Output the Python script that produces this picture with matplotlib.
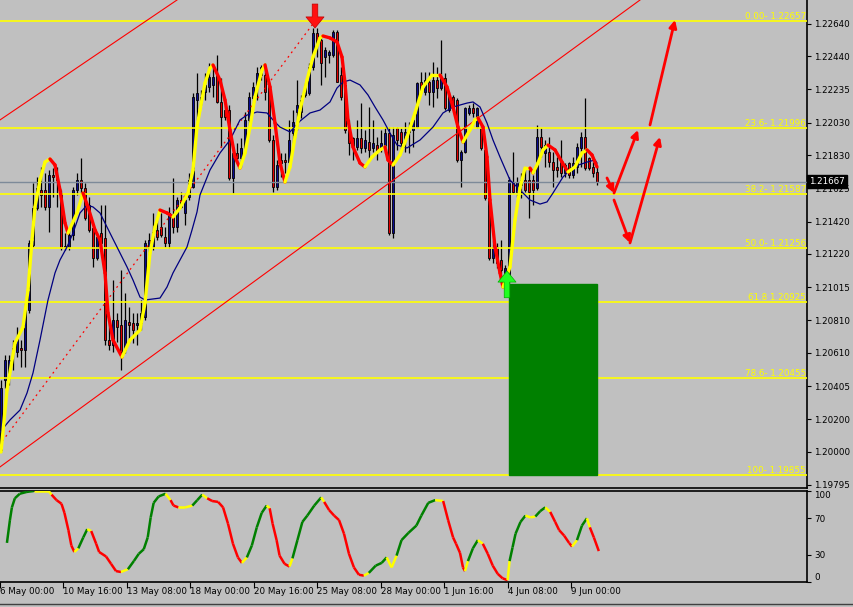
import numpy as np
import matplotlib
matplotlib.use("Agg")
import matplotlib.pyplot as plt
import matplotlib.transforms as mtransforms
from matplotlib.collections import LineCollection
from matplotlib.patches import Rectangle

plt.rcParams['font.family'] = 'DejaVu Sans'

# ---- EURUSD H4 candles, bar 0 = 6 May 08:00 ----
opens = [1.20010, 1.20442, 1.20486, 1.20640, 1.20615, 1.20640, 1.20627, 1.20874, 1.21275, 1.21504,
         1.21615, 1.21615, 1.21510, 1.21707, 1.21695, 1.21596, 1.21269, 1.21263, 1.21337, 1.21615,
         1.21676, 1.21627, 1.21522, 1.21380, 1.21195, 1.21349, 1.21319, 1.20689, 1.20658, 1.20813,
         1.20782, 1.20627, 1.20800, 1.20794, 1.20782, 1.20794, 1.20831, 1.21257, 1.21263, 1.21368,
         1.21387, 1.21325, 1.21288, 1.21448, 1.21387, 1.21553, 1.21473, 1.21572, 1.21633, 1.22170,
         1.22158, 1.22219, 1.22250, 1.22263, 1.22324, 1.22158, 1.22108, 1.22108, 1.21689, 1.21843,
         1.21812, 1.21874, 1.22047, 1.22182, 1.22263, 1.22324, 1.22324, 1.22263, 1.21923, 1.21633,
         1.21800, 1.21800, 1.21787, 1.21966, 1.22096, 1.22096, 1.22201, 1.22213, 1.22374, 1.22583,
         1.22540, 1.22435, 1.22448, 1.22448, 1.22590, 1.22324, 1.22263, 1.21985, 1.21936, 1.21880,
         1.21936, 1.21874, 1.21911, 1.21874, 1.21892, 1.21874, 1.21880, 1.21966, 1.21349, 1.21997,
         1.21973, 1.21923, 1.21973, 1.21985, 1.22003, 1.22281, 1.22219, 1.22281, 1.22219, 1.22293,
         1.22244, 1.22306, 1.22108, 1.22189, 1.22170, 1.21800, 1.21849, 1.22090, 1.22121, 1.22003,
         1.22003, 1.21862, 1.21565, 1.21195, 1.21263, 1.21183, 1.21103, 1.21090, 1.21664, 1.21602,
         1.21646, 1.21676, 1.21676, 1.21676, 1.21627, 1.21942, 1.21843, 1.21849, 1.21787, 1.21757,
         1.21787, 1.21720, 1.21781, 1.21707, 1.21757, 1.21874, 1.21942, 1.21812, 1.21757, 1.21726]
highs = [1.20442, 1.20597, 1.20597, 1.20689, 1.20769, 1.20689, 1.20917, 1.21306, 1.21658, 1.21695,
         1.21757, 1.21720, 1.21738, 1.21750, 1.21757, 1.21615, 1.21349, 1.21368, 1.21633, 1.21720,
         1.21812, 1.21658, 1.21572, 1.21387, 1.21349, 1.21522, 1.21522, 1.20813, 1.21059, 1.20856,
         1.21121, 1.20979, 1.20893, 1.20856, 1.20856, 1.20936, 1.21306, 1.21349, 1.21473, 1.21430,
         1.21473, 1.21387, 1.21510, 1.21689, 1.21572, 1.21602, 1.21596, 1.21720, 1.22213, 1.22337,
         1.22232, 1.22337, 1.22398, 1.22374, 1.22448, 1.22306, 1.22139, 1.22139, 1.21880, 1.21905,
         1.21936, 1.22096, 1.22219, 1.22281, 1.22374, 1.22386, 1.22398, 1.22281, 1.21954, 1.21800,
         1.21843, 1.21843, 1.22047, 1.22108, 1.22293, 1.22201, 1.22275, 1.22398, 1.22614, 1.22614,
         1.22559, 1.22497, 1.22478, 1.22602, 1.22602, 1.22374, 1.22275, 1.22047, 1.21942, 1.22047,
         1.22151, 1.21985, 1.22127, 1.22047, 1.21942, 1.21985, 1.22003, 1.22003, 1.22003, 1.22003,
         1.21997, 1.22034, 1.22034, 1.22065, 1.22281, 1.22343, 1.22343, 1.22343, 1.22404, 1.22374,
         1.22540, 1.22337, 1.22219, 1.22201, 1.22182, 1.21862, 1.22127, 1.22139, 1.22151, 1.22127,
         1.22028, 1.21874, 1.21584, 1.21306, 1.21288, 1.21306, 1.21152, 1.21695, 1.21849, 1.21695,
         1.21720, 1.21757, 1.21757, 1.21707, 1.22016, 1.21997, 1.21923, 1.21942, 1.21849, 1.21818,
         1.21923, 1.21781, 1.21787, 1.21818, 1.21905, 1.21973, 1.22182, 1.21818, 1.21787, 1.21757]
lows = [1.19998, 1.20393, 1.20412, 1.20504, 1.20584, 1.20523, 1.20523, 1.20856, 1.21263, 1.21491,
        1.21510, 1.21491, 1.21356, 1.21572, 1.21510, 1.21245, 1.21245, 1.21245, 1.21306, 1.21584,
        1.21596, 1.21430, 1.21356, 1.21140, 1.21183, 1.21245, 1.20658, 1.20627, 1.20615, 1.20677,
        1.20504, 1.20609, 1.20671, 1.20671, 1.20658, 1.20751, 1.20813, 1.21201, 1.21245, 1.21306,
        1.21325, 1.21263, 1.21257, 1.21349, 1.21356, 1.21504, 1.21399, 1.21553, 1.21627, 1.22047,
        1.22139, 1.22170, 1.22219, 1.22189, 1.22151, 1.21880, 1.22047, 1.21676, 1.21596, 1.21800,
        1.21757, 1.21843, 1.21985, 1.22170, 1.22170, 1.22293, 1.22170, 1.21911, 1.21602, 1.21615,
        1.21695, 1.21720, 1.21781, 1.21905, 1.21985, 1.22059, 1.22189, 1.22201, 1.22355, 1.22435,
        1.22263, 1.22312, 1.22398, 1.22435, 1.22281, 1.22170, 1.21966, 1.21831, 1.21800, 1.21862,
        1.21843, 1.21849, 1.21800, 1.21849, 1.21800, 1.21849, 1.21843, 1.21337, 1.21319, 1.21862,
        1.21862, 1.21849, 1.21843, 1.21880, 1.21997, 1.22213, 1.22201, 1.22139, 1.22127, 1.22182,
        1.22232, 1.22108, 1.22096, 1.22108, 1.21787, 1.21633, 1.21843, 1.22077, 1.22065, 1.21997,
        1.21862, 1.21553, 1.21183, 1.21164, 1.21134, 1.21078, 1.20997, 1.21016, 1.21596, 1.21572,
        1.21565, 1.21602, 1.21442, 1.21522, 1.21615, 1.21818, 1.21757, 1.21757, 1.21633, 1.21695,
        1.21695, 1.21695, 1.21689, 1.21689, 1.21720, 1.21757, 1.21738, 1.21738, 1.21695, 1.21646]
closes = [1.20393, 1.20566, 1.20566, 1.20615, 1.20702, 1.20627, 1.20893, 1.21288, 1.21504, 1.21627,
          1.21584, 1.21510, 1.21707, 1.21695, 1.21676, 1.21257, 1.21263, 1.21337, 1.21615, 1.21676,
          1.21627, 1.21442, 1.21368, 1.21195, 1.21325, 1.21288, 1.20689, 1.20658, 1.20813, 1.20769,
          1.20615, 1.20813, 1.20782, 1.20751, 1.20794, 1.20856, 1.21288, 1.21306, 1.21356, 1.21325,
          1.21337, 1.21288, 1.21473, 1.21387, 1.21553, 1.21510, 1.21553, 1.21676, 1.22189, 1.22213,
          1.22189, 1.22263, 1.22312, 1.22312, 1.22158, 1.22065, 1.22065, 1.21689, 1.21843, 1.21812,
          1.21874, 1.22047, 1.22189, 1.22250, 1.22337, 1.22374, 1.22219, 1.21923, 1.21633, 1.21769,
          1.21781, 1.21787, 1.21923, 1.22034, 1.22139, 1.22170, 1.22263, 1.22374, 1.22583, 1.22522,
          1.22398, 1.22478, 1.22466, 1.22590, 1.22281, 1.22189, 1.21985, 1.21905, 1.21880, 1.21936,
          1.21874, 1.21923, 1.21862, 1.21905, 1.21849, 1.21905, 1.21966, 1.21349, 1.21954, 1.21923,
          1.21905, 1.21973, 1.22003, 1.22047, 1.22275, 1.22232, 1.22293, 1.22219, 1.22293, 1.22244,
          1.22312, 1.22121, 1.22201, 1.22127, 1.21800, 1.21849, 1.22121, 1.22121, 1.22090, 1.22121,
          1.21874, 1.21565, 1.21195, 1.21263, 1.21164, 1.21121, 1.21134, 1.21676, 1.21602, 1.21664,
          1.21676, 1.21615, 1.21602, 1.21615, 1.21942, 1.21880, 1.21892, 1.21787, 1.21738, 1.21738,
          1.21720, 1.21769, 1.21707, 1.21781, 1.21880, 1.21942, 1.21750, 1.21750, 1.21720, 1.21667]

# smoothed trend line (yellow up / red down), read at sample bars
trend_bar = [0, 1.5, 3.5, 5.5, 6.75, 7.75, 8.5, 9.75, 11, 12.25, 13.5, 14.75, 16, 16.75, 19, 20.5,
             21.75, 23.5, 24.75, 26, 26.75, 28, 30.25, 32.25, 34.75, 36, 37.25, 38.5, 39.75, 41.5,
             43, 44.75, 46.75, 48, 49, 49.75, 51, 52.25, 53, 54.75, 56, 57.25, 58.5, 59.75, 61,
             62.25, 63.5, 65.25, 66, 67.25, 68.5, 69.75, 71, 72.25, 73.5, 74.75, 76.5, 78, 79.75,
             80.5, 82.25, 84, 85.25, 86, 86.75, 88, 89.75, 91, 92.75, 94.75, 96, 96.75, 98, 99.75,
             101.5, 103.5, 105.5, 107.75, 109.75, 111.5, 113, 114.25, 115.5, 117.25, 118.5, 119.25,
             120.5, 121.5, 122.25, 123.5, 124.75, 125.5, 127.25, 128.5, 129.75, 131, 132.25, 133,
             134.25, 135.5, 136.75, 138.5, 140.25, 141.75, 143.5, 145.25, 146.5, 147.75, 149]
trend_val = [1.19998, 1.20381, 1.20671, 1.20769, 1.20997, 1.21306, 1.21510, 1.21676, 1.21787, 1.21806,
             1.21769, 1.21615, 1.21411, 1.21349, 1.21473, 1.21596, 1.21510, 1.21368, 1.21306, 1.21103,
             1.20856, 1.20689, 1.20584, 1.20689, 1.20751, 1.20917, 1.21226, 1.21387, 1.21491, 1.21473,
             1.21448, 1.21504, 1.21596, 1.21738, 1.22003, 1.22108, 1.22275, 1.22367, 1.22386, 1.22293,
             1.22170, 1.21985, 1.21818, 1.21750, 1.21843, 1.22003, 1.22189, 1.22355, 1.22386, 1.22250,
             1.22028, 1.21781, 1.21664, 1.21757, 1.21942, 1.22108, 1.22293, 1.22435, 1.22553, 1.22565,
             1.22553, 1.22528, 1.22435, 1.22275, 1.22047, 1.21880, 1.21781, 1.21757, 1.21818, 1.21862,
             1.21880, 1.21800, 1.21769, 1.21831, 1.21942, 1.22090, 1.22250, 1.22324, 1.22324, 1.22250,
             1.22127, 1.22003, 1.21911, 1.21985, 1.22047, 1.22059, 1.22003, 1.21818, 1.21553, 1.21263,
             1.21103, 1.21016, 1.21140, 1.21430, 1.21627, 1.21750, 1.21750, 1.21720, 1.21781, 1.21862,
             1.21892, 1.21862, 1.21787, 1.21726, 1.21757, 1.21843, 1.21862, 1.21831, 1.21757]

# navy moving average, read at sample bars
ma_bar = [-0.25, 2.25, 4.75, 6.5, 8, 9.75, 11.75, 13.5, 14.75, 16.5, 18, 19.75, 21.5, 23, 24.75,
          27.25, 29.75, 31.5, 33, 34.75, 36, 39.75, 41.5, 43, 44.75, 46.5, 47.75, 49, 49.75, 52.25,
          54.75, 57.25, 59.75, 61.5, 64, 66.5, 68, 69.75, 72.25, 74.75, 77.25, 79.75, 82.25, 84,
          85.5, 87.25, 89.75, 91.75, 93.5, 95.5, 97.25, 99, 101.5, 104.75, 108, 110.5, 113, 116.5,
          118, 119.75, 121.5, 123, 124.75, 127.25, 129.75, 132.25, 134.75, 136.5, 138, 140.5, 143,
          146.5, 148.5, 149]
ma_val = [1.20121, 1.20196, 1.20257, 1.20362, 1.20486, 1.20689, 1.20936, 1.21103, 1.21183, 1.21263,
          1.21349, 1.21473, 1.21522, 1.21510, 1.21473, 1.21349, 1.21226, 1.21140, 1.21059, 1.20954,
          1.20936, 1.20948, 1.21016, 1.21103, 1.21183, 1.21263, 1.21368, 1.21479, 1.21584, 1.21738,
          1.21843, 1.21923, 1.22047, 1.22077, 1.22096, 1.22090, 1.22047, 1.22003, 1.21973, 1.22040,
          1.22090, 1.22108, 1.22158, 1.22244, 1.22281, 1.22293, 1.22263, 1.22201, 1.22127, 1.22047,
          1.21966, 1.21892, 1.21874, 1.21923, 1.22003, 1.22090, 1.22127, 1.22151, 1.22158, 1.22127,
          1.22028, 1.21923, 1.21818, 1.21676, 1.21615, 1.21553, 1.21528, 1.21541, 1.21596, 1.21695,
          1.21757, 1.21787, 1.21800, 1.21781]

# oscillator (0-100), read at sample bars
osc_bar = [-0.25, 0.5, 1, 1.75, 3, 4.75, 6.5, 10.25, 11, 12.25, 13.5, 14.25, 15.25, 16, 16.75,
           17.75, 19, 20, 21, 22.25, 23, 24.75, 26, 27.25, 28.5, 30.25, 31.75, 33, 34.25, 35.25,
           36, 36.75, 38, 39.75, 41, 41.75, 43, 44.75, 46.5, 47.75, 49, 50.25, 51.5, 53, 54.25,
           55.5, 56.75, 58, 59, 60.25, 61.5, 62.75, 64, 65.25, 66, 66.75, 67.75, 68.5, 69.75, 71,
           71.75, 73, 74.25, 75.5, 77.25, 79, 79.75, 81, 82.25, 83.5, 84.75, 86, 87.25, 88.5,
           89.75, 91, 92.75, 94.25, 95.5, 96.75, 98, 99.25, 101, 103, 104.25, 106, 107.75, 109.75,
           111, 112.25, 113, 114, 114.75, 115.25, 116, 117.25, 118.5, 119.75, 121, 122.25, 123.5,
           124.75, 126, 126.5, 127.25, 128, 129.25, 130.5, 131.75, 133, 134.25, 135.5, 136.75,
           138, 139, 140.25, 141.5, 142.25, 143.5, 144.75, 146, 146.75, 147.75, 149]
osc_val = [43, 68, 82, 92, 97, 99, 100, 100, 96, 90, 86, 76, 57, 40, 33,
           37, 49, 58, 56, 42, 33, 28, 20, 12, 11, 14, 23, 31, 36, 49,
           71, 87, 94, 97, 90, 84, 82, 82, 84, 90, 96, 92, 89, 88, 82,
           64, 42, 27, 21, 27, 40, 60, 76, 84, 81, 64, 46, 29, 20, 17,
           26, 46, 66, 73, 84, 93, 88, 79, 73, 68, 53, 31, 16, 8,
           7, 10, 18, 21, 27, 16, 29, 46, 54, 62, 73, 87, 90, 89,
           68, 49, 42, 32, 16, 12, 23, 37, 46, 42, 31, 18, 9,
           4, 2, 23, 38, 53, 66, 73, 71, 72, 78, 82, 77,
           66, 57, 51, 43, 39, 46, 62, 70, 60, 49, 34]

# fibonacci retracement drawn on the chart
fib_levels = [1.22657, 1.21996, 1.21587, 1.21256, 1.20925, 1.20455, 1.19855]
fib_labels = ["0.00- 1.22657", "23.6- 1.21996", "38.2- 1.21587", "50.0- 1.21256",
              "61.8 1.20925", "78.6- 1.20455", "100- 1.19855"]
fib_anchor_bar = [-6, 78.5]
fib_anchor_price = [1.19855, 1.22657]

# channel lines (two anchor points each)
chan_low_bar = [-0.25, 159.75]
chan_low_price = [1.19906, 1.22787]
chan_up_bar = [-0.25, 44]
chan_up_price = [1.22047, 1.22787]

# target box and hand-drawn scenario arrows
box_bars = [127, 149]
box_prices = [1.19855, 1.21035]
scen_arrows = [((151.5, 1.21689), (153.25, 1.21596)),
               ((153.25, 1.21596), (159.25, 1.21985)),
               ((153.25, 1.21553), (157.25, 1.21288)),
               ((157.25, 1.21288), (164.75, 1.21942)),
               ((162.25, 1.22016), (168.5, 1.22664))]

price_ticks = [1.22640, 1.22440, 1.22235, 1.22030, 1.21830, 1.21625, 1.21420, 1.21220,
               1.21015, 1.20810, 1.20610, 1.20405, 1.20200, 1.20000, 1.19795]
last_price = 1.21667
date_ticks = [-2, 14, 30, 46, 62, 78, 94, 110, 126, 142]
date_labels = ["6 May 00:00", "10 May 16:00", "13 May 08:00", "18 May 00:00", "20 May 16:00",
               "25 May 08:00", "28 May 00:00", "1 Jun 16:00", "4 Jun 08:00", "9 Jun 00:00"]
osc_ticks = [100, 70, 30, 0]

BG = '#C0C0C0'
W, H = 854, 607
fig = plt.figure(figsize=(W / 100, H / 100), dpi=100, facecolor=BG)
ax = fig.add_axes([0, 1 - 488 / H, 807 / W, 488 / H], facecolor=BG)
osc = fig.add_axes([0, 1 - 582 / H, 807 / W, 91 / H], facecolor=BG)

XMIN, XMAX = -0.25, 201.5
ax.set_xlim(XMIN, XMAX)
ax.set_ylim(1.19776, 1.22787)

##### candles #####
o = np.array(opens); hi = np.array(highs); lo = np.array(lows); c = np.array(closes)
idx = np.arange(len(o))
ax.vlines(idx, lo, hi, color='black', lw=0.9, zorder=2)
bull = c >= o
bot = np.minimum(o, c)
hgt = np.maximum(np.abs(c - o), 0.00003)
ax.bar(idx[bull], hgt[bull], bottom=bot[bull], width=0.7, color='#0A0A90',
       edgecolor='black', lw=0.6, zorder=3)
ax.bar(idx[~bull], hgt[~bull], bottom=bot[~bull], width=0.7, color='#E00000',
       edgecolor='black', lw=0.6, zorder=3)

##### objects #####
for lev, lab in zip(fib_levels, fib_labels):
    ax.axhline(lev, color='#FFFF00', lw=1.2, zorder=4)
    ax.text(XMAX - 0.3, lev, lab, color='#FFFF00', fontsize=6.3, ha='right', va='bottom', zorder=6)
ax.axhline(last_price, color='#7D8A99', lw=1.0, zorder=4)
ax.plot(fib_anchor_bar, fib_anchor_price, color='red', lw=0.9, ls=(0, (1.5, 3)), zorder=4)
ax.axline((chan_low_bar[0], chan_low_price[0]), (chan_low_bar[1], chan_low_price[1]),
          color='red', lw=0.8, zorder=4)
ax.axline((chan_up_bar[0], chan_up_price[0]), (chan_up_bar[1], chan_up_price[1]),
          color='red', lw=0.8, zorder=4)

ax.plot(ma_bar, ma_val, color='#000080', lw=0.9, zorder=5)

tb = np.array(trend_bar); tv = np.array(trend_val)
segs = np.stack([np.column_stack([tb[:-1], tv[:-1]]), np.column_stack([tb[1:], tv[1:]])], axis=1)
cols = ['#FFFF00' if d >= 0 else '#FF0000' for d in np.diff(tv)]
ax.add_collection(LineCollection(segs, colors=cols, linewidths=2.4, zorder=6, capstyle='round'))

ax.add_patch(Rectangle((box_bars[0], box_prices[0]), box_bars[1] - box_bars[0],
                       box_prices[1] - box_prices[0], color='#008000', zorder=5))

# signal arrows
ax.annotate('', xy=(78.5, 1.22614), xytext=(78.5, 1.22762),
            arrowprops=dict(facecolor='#FF1010', edgecolor='#C00000', width=4, headwidth=13,
                            headlength=8, shrink=0, lw=0.5), zorder=7, annotation_clip=False)
ax.annotate('', xy=(126.5, 1.21115), xytext=(126.5, 1.20950),
            arrowprops=dict(facecolor='#20FF20', edgecolor='#00B000', width=4, headwidth=13,
                            headlength=8, shrink=0, lw=0.5), zorder=7)
for (x0, y0), (x1, y1) in scen_arrows:
    ax.annotate('', xy=(x1, y1), xytext=(x0, y0),
                arrowprops=dict(arrowstyle='-|>', color='#FF0000', lw=2.0,
                                mutation_scale=11, shrinkA=0, shrinkB=0), zorder=7)

##### price axis #####
for s in ['left', 'top']:
    ax.spines[s].set_visible(False)
ax.spines['right'].set_linewidth(1.2)
ax.spines['bottom'].set_linewidth(1.2)
ax.set_xticks([])
ax.yaxis.tick_right()
ax.set_yticks(price_ticks)
ax.set_yticklabels(['%.5f' % p for p in price_ticks])
ax.tick_params(axis='y', length=3, width=0.8, pad=2, labelsize=6.3, colors='black')
tr = mtransforms.blended_transform_factory(ax.transAxes, ax.transData)
ax.text(1.003, last_price, '%.5f' % last_price, transform=tr, color='white', fontsize=6.3,
        ha='left', va='center', zorder=10,
        bbox=dict(boxstyle='square,pad=0.25', fc='black', ec='black'))

##### oscillator #####
osc.set_xlim(XMIN, XMAX)
osc.set_ylim(0, 100)
ob = np.array(osc_bar); ov = np.array(osc_val, dtype=float)
d = np.diff(ov)
ocols = []
for k, dk in enumerate(d):
    turning = k > 0 and np.sign(dk) != np.sign(d[k - 1])
    if abs(dk) < 0.5 or turning:
        ocols.append('#FFFF00')
    elif dk > 0:
        ocols.append('#008000')
    else:
        ocols.append('#FF0000')
osegs = np.stack([np.column_stack([ob[:-1], ov[:-1]]), np.column_stack([ob[1:], ov[1:]])], axis=1)
osc.add_collection(LineCollection(osegs, colors=ocols, linewidths=1.8, zorder=3))

osc.spines['left'].set_visible(False)
for s in ['right', 'top', 'bottom']:
    osc.spines[s].set_linewidth(1.2)
osc.yaxis.tick_right()
osc.set_yticks(osc_ticks)
osc.set_yticklabels([str(t) for t in osc_ticks])
osc.tick_params(axis='y', length=3, width=0.8, pad=2, labelsize=6.3)
ylabs = osc.get_yticklabels()
ylabs[0].set_verticalalignment('top')
ylabs[-1].set_verticalalignment('bottom')

osc.set_xticks(date_ticks)
osc.set_xticklabels([])
osc.tick_params(axis='x', length=4, width=0.8, direction='out')
trx = mtransforms.blended_transform_factory(osc.transData, osc.transAxes)
for t, lab in zip(date_ticks, date_labels):
    osc.text(t, -0.06, lab, transform=trx, fontsize=6.3, ha='left', va='top')

fig.add_artist(plt.Line2D([0, 1], [1 - 604 / H, 1 - 604 / H], color='#404040', lw=1.0))

fig.savefig('out.png', dpi=100, facecolor=BG)
